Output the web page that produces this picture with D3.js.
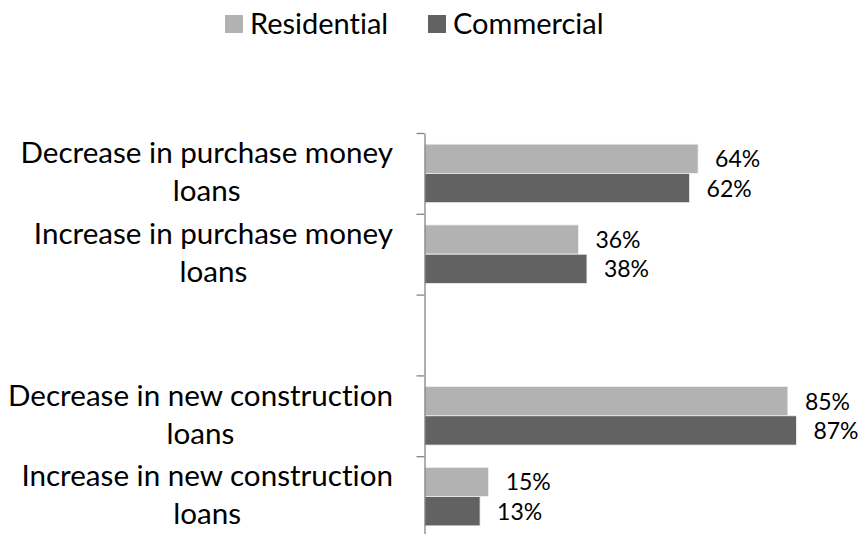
<!DOCTYPE html>
<html>
<head>
<meta charset="utf-8">
<script src="https://cdn.jsdelivr.net/npm/d3@7"></script>
<style>
  body { margin: 0; background: #fff; }
  svg { display: block; font-family: Lato, "Open Sans", sans-serif; font-variant-ligatures: none; font-feature-settings: "liga" 0, "clig" 0; }
</style>
</head>
<body>
<div id="chart"></div>
<script>
const categories = [
  "Decrease in purchase money loans",
  "Increase in purchase money loans",
  "",
  "Decrease in new construction loans",
  "Increase in new construction loans"
];
const labelLines = [
  ["Decrease in purchase money", "loans"],
  ["Increase in purchase money", "loans"],
  [],
  ["Decrease in new construction", "loans"],
  ["Increase in new construction", "loans"]
];
const seriesNames = ["Residential", "Commercial"];
const residential = [0.64, 0.36, null, 0.85, 0.15];
const commercial = [0.62, 0.38, null, 0.87, 0.13];

const width = 863,
  height = 534,
  margin = { top: 133, left: 424.5, right: 11 },
  plotBottom = 537,
  colors = ["#b2b2b2", "#626262"];

const svg = d3.select("#chart")
  .append("svg")
  .attr("width", width)
  .attr("height", height);

const yScale = d3.scaleBand()
  .domain(categories.map((d, i) => i))
  .range([margin.top, plotBottom])
  .paddingInner(0)
  .paddingOuter(0);

const ySub = d3.scaleBand()
  .domain(seriesNames)
  .range([0, yScale.bandwidth()])
  .paddingInner(0)
  .paddingOuter(0.38);

const xScale = d3.scaleLinear()
  .domain([0, 1])
  .range([margin.left, width - margin.right]);

const rows = categories.map((c, i) => ({
  i,
  values: [
    { name: seriesNames[0], v: residential[i] },
    { name: seriesNames[1], v: commercial[i] }
  ]
}));

// bars
const groups = svg.selectAll(".cat")
  .data(rows)
  .join("g")
  .attr("class", "cat")
  .attr("transform", d => `translate(0,${yScale(d.i)})`);

groups.selectAll("rect")
  .data(d => d.values.filter(v => v.v != null))
  .join("rect")
  .attr("x", xScale(0))
  .attr("y", d => ySub(d.name))
  .attr("width", d => xScale(d.v) - xScale(0))
  .attr("height", ySub.bandwidth())
  .attr("fill", d => colors[seriesNames.indexOf(d.name)])
  .attr("stroke", "#f2f2f2")
  .attr("stroke-width", 0.8);

groups.selectAll("text.val")
  .data(d => d.values.filter(v => v.v != null))
  .join("text")
  .attr("class", "val")
  .attr("x", d => xScale(d.v) + 17)
  .attr("y", d => ySub(d.name) + ySub.bandwidth() / 2)
  .attr("dy", "0.37em")
  .attr("font-size", 23)
  .attr("fill", "#000")
  .text(d => d3.format(".0%")(d.v));

// axis with ticks between categories
const boundary = d3.scaleLinear()
  .domain([0, categories.length])
  .range([margin.top, plotBottom]);

const yAxis = svg.append("g")
  .attr("transform", `translate(${margin.left},0)`)
  .call(d3.axisLeft(boundary).ticks(categories.length).tickSize(8).tickFormat("").tickSizeOuter(0));
yAxis.selectAll("line, path").attr("stroke", "#868686").attr("stroke-width", 1.3);

// category labels, centred lines, right-aligned block
const labelRight = 393,
  lineHeight = 38;

labelLines.forEach((lines, i) => {
  if (!lines.length) return;
  const g = svg.append("g").attr("font-size", 29.6).attr("fill", "#000");
  const texts = lines.map((t, k) => g.append("text")
    .attr("y", yScale(i) + yScale.bandwidth() / 2 + (k - (lines.length - 1) / 2) * lineHeight)
    .attr("dy", "0.3em")
    .attr("text-anchor", "middle")
    .text(t));
  const maxW = d3.max(texts, t => t.node().getComputedTextLength());
  texts.forEach(t => t.attr("x", labelRight - maxW / 2));
});

// legend
const legendItems = [
  { name: seriesNames[0], x: 225, color: colors[0] },
  { name: seriesNames[1], x: 428, color: colors[1] }
];
const legend = svg.append("g");
legend.selectAll("rect")
  .data(legendItems)
  .join("rect")
  .attr("x", d => d.x)
  .attr("y", 15)
  .attr("width", 18)
  .attr("height", 18)
  .attr("fill", d => d.color);
legend.selectAll("text")
  .data(legendItems)
  .join("text")
  .attr("x", d => d.x + 25)
  .attr("y", 24)
  .attr("dy", "0.36em")
  .attr("font-size", 29)
  .attr("fill", "#000")
  .text(d => d.name);
</script>
</body>
</html>
